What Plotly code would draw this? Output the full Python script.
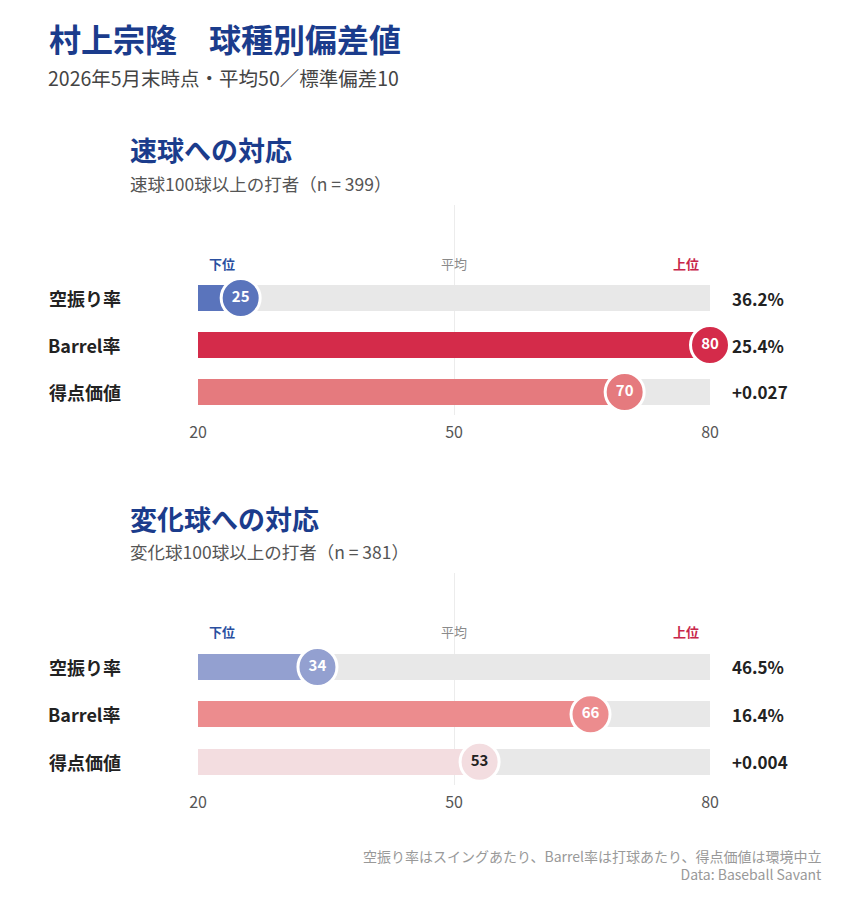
import plotly.graph_objects as go

# ---- data ----
metrics = ["空振り率", "Barrel率", "得点価値"]
fast_scores = [25, 80, 70]
fast_values = ["36.2%", "25.4%", "+0.027"]
break_scores = [34, 66, 53]
break_values = ["46.5%", "16.4%", "+0.004"]
ticks = [20, 50, 80]
scale_labels = ["下位", "平均", "上位"]

title = "村上宗隆　球種別偏差値"
subtitle = "2026年5月末時点・平均50／標準偏差10"
sections = [
    ("速球への対応", "速球100球以上の打者（n = 399）"),
    ("変化球への対応", "変化球100球以上の打者（n = 381）"),
]
footer = ["空振り率はスイングあたり、Barrel率は打球あたり、得点価値は環境中立",
          "Data: Baseball Savant"]

# ---- styles ----
FONT = "Noto Sans CJK JP"
NAVY = "#1b3c8c"
fast_colors = ["#5a74bc", "#d42b4a", "#e57a7e"]
break_colors = ["#93a0d0", "#ec8c8e", "#f3dde0"]
TRACK = "#e8e8e8"

W, H = 844, 900
L, R = 198, 710


def px_x(p):
    return (p - L) / (R - L)


def px_y(p):
    return 1 - p / H


fig = go.Figure()
ypos = list(range(len(metrics)))

panels = [
    (fast_scores, fast_values, fast_colors, "x", "y"),
    (break_scores, break_values, break_colors, "x2", "y2"),
]
for scores, values, colors, xa, ya in panels:
    fig.add_trace(go.Bar(
        x=[ticks[-1] - ticks[0]] * len(metrics), base=ticks[0], y=ypos,
        orientation="h", width=0.55, marker=dict(color=TRACK, line=dict(width=0)),
        xaxis=xa, yaxis=ya, hoverinfo="skip", showlegend=False))
    fig.add_trace(go.Bar(
        x=[s - ticks[0] for s in scores], base=ticks[0], y=ypos,
        orientation="h", width=0.55, marker=dict(color=colors, line=dict(width=0)),
        xaxis=xa, yaxis=ya, hoverinfo="skip", showlegend=False))
    fig.add_trace(go.Scatter(
        x=scores, y=ypos, mode="markers+text", text=[str(s) for s in scores],
        textposition="middle center",
        textfont=dict(family=FONT, size=15, weight="bold",
                      color=["#222222" if abs(s - 50) < 10 else "white" for s in scores]),
        marker=dict(size=39, color=colors, line=dict(color="white", width=3)),
        cliponaxis=False, xaxis=xa, yaxis=ya, hoverinfo="skip", showlegend=False))

axis_x = dict(range=[ticks[0], ticks[-1]], tickvals=ticks, ticktext=[str(t) for t in ticks],
              showgrid=True, gridcolor="#ececec", gridwidth=1, zeroline=False,
              showline=False, ticks="", ticklabelstandoff=6,
              tickfont=dict(family=FONT, size=16, color="#555555"),
              fixedrange=True, domain=[0, 1])
yr = [2.49, -1.98]
fig.update_layout(
    width=W, height=H,
    margin=dict(l=L, r=W - R, t=0, b=0),
    plot_bgcolor="white", paper_bgcolor="white",
    barmode="overlay", bargap=0,
    xaxis=dict(axis_x, anchor="y"),
    xaxis2=dict(axis_x, anchor="y2"),
    yaxis=dict(range=yr, domain=[1 - 415 / H, 1 - 205 / H], visible=False, fixedrange=True),
    yaxis2=dict(range=yr, domain=[1 - 785 / H, 1 - 573 / H], visible=False, fixedrange=True),
    font=dict(family=FONT),
)

ann = []
ann.append(dict(text=f"<b>{title}</b>", x=px_x(47), y=px_y(38), xref="paper", yref="paper",
                xanchor="left", yanchor="middle", showarrow=False,
                font=dict(size=32, color=NAVY, family=FONT)))
ann.append(dict(text=subtitle, x=px_x(46), y=px_y(77), xref="paper", yref="paper",
                xanchor="left", yanchor="middle", showarrow=False,
                font=dict(size=19.5, color="#444444", family=FONT)))

sec_y = [(150, 183), (518, 551)]
for (st, ss), (ty, sy) in zip(sections, sec_y):
    ann.append(dict(text=f"<b>{st}</b>", x=px_x(128), y=px_y(ty), xref="paper", yref="paper",
                    xanchor="left", yanchor="middle", showarrow=False,
                    font=dict(size=27, color=NAVY, family=FONT)))
    ann.append(dict(text=ss, x=px_x(128), y=px_y(sy), xref="paper", yref="paper",
                    xanchor="left", yanchor="middle", showarrow=False,
                    font=dict(size=17.5, color="#555555", family=FONT)))

label_colors = ["#2a4fa0", "#8a8a8a", "#c8264a"]
label_x = [ticks[0] + 1, ticks[1], ticks[-1] - 1]
label_anchor = ["left", "center", "right"]
for (scores, values, colors, xa, ya) in panels:
    for lbl, lc, lx, la in zip(scale_labels, label_colors, label_x, label_anchor):
        weight = "bold" if la != "center" else "normal"
        ann.append(dict(text=lbl, x=lx, y=-0.74, xref=xa, yref=ya, xanchor=la,
                        yanchor="middle", showarrow=False,
                        font=dict(size=13, color=lc, family=FONT, weight=weight)))
    for i, (m, v) in enumerate(zip(metrics, values)):
        ann.append(dict(text=f"<b>{m}</b>", x=px_x(123), y=i, xref="paper", yref=ya,
                        xanchor="right", yanchor="middle", showarrow=False,
                        font=dict(size=18, color="#222222", family=FONT)))
        ann.append(dict(text=f"<b>{v}</b>", x=px_x(730), y=i, xref="paper", yref=ya,
                        xanchor="left", yanchor="middle", showarrow=False,
                        font=dict(size=17, color="#222222", family=FONT)))

ann.append(dict(text="<br>".join(footer), x=px_x(823), y=px_y(865), xref="paper", yref="paper",
                xanchor="right", yanchor="middle", align="right", showarrow=False,
                borderpad=0, font=dict(size=14, color="#999999", family=FONT)))

fig.update_layout(annotations=ann)
fig.write_html("out.html")
